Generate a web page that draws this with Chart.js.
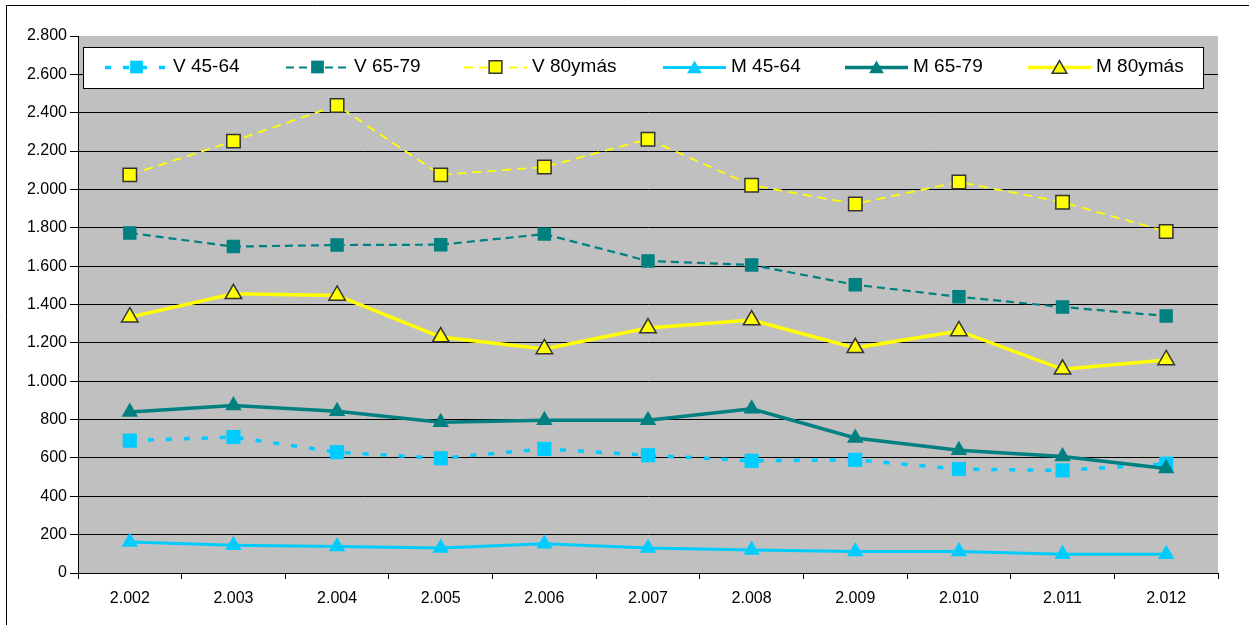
<!DOCTYPE html>
<html>
<head>
<meta charset="utf-8">
<script src="https://cdn.jsdelivr.net/npm/chart.js@4"></script>
<style>
html,body{margin:0;padding:0;background:#fff;}
#wrap{width:1249px;height:625px;position:relative;}
</style>
</head>
<body>
<div id="wrap"><canvas id="c" width="1249" height="625"></canvas></div>
<script>
const categories = ['2.002','2.003','2.004','2.005','2.006','2.007','2.008','2.009','2.010','2.011','2.012'];
const seriesNames = ['V 45-64','V 65-79','V 80ymás','M 45-64','M 65-79','M 80ymás'];
const v4564 = [690, 709, 630, 598, 647, 614, 585, 590, 542, 535, 570];
const v6579 = [1773, 1702, 1710, 1712, 1767, 1627, 1606, 1503, 1440, 1387, 1340];
const v80   = [2076, 2252, 2438, 2076, 2117, 2262, 2022, 1924, 2039, 1933, 1781];
const m4564 = [162, 145, 138, 130, 152, 130, 120, 112, 112, 98, 98];
const m6579 = [839, 874, 843, 786, 796, 796, 856, 704, 640, 607, 545];
const m80   = [1334, 1456, 1447, 1230, 1168, 1277, 1319, 1174, 1262, 1062, 1111];
const yMin = 0, yMax = 2800, yStep = 200;

const FONT = "'Liberation Sans', Arial, sans-serif";
const LBLUE = '#00CCFF', TEAL = '#008080', YEL = '#FFFF00', EDGE = '#333333';

function fmt(v){
  return String(v).replace(/\B(?=(\d{3})+(?!\d))/g, '.');
}

const styles = [
  {color:LBLUE, dash:[6,12], width:3.5, shape:'rect', r:10, edge:null},
  {color:TEAL,  dash:[8,5],  width:2.2, shape:'rect', r:9.5, edge:null},
  {color:YEL,   dash:[9,6],  width:1.8, shape:'rect', r:9.5, edge:EDGE},
  {color:LBLUE, dash:[],     width:3,   shape:'triangle', r:9.5, edge:null},
  {color:TEAL,  dash:[],     width:3.5, shape:'triangle', r:9.5, edge:null},
  {color:YEL,   dash:[],     width:3.5, shape:'triangle', r:9.5, edge:EDGE}
];
const values = [v4564, v6579, v80, m4564, m6579, m80];

const datasets = values.map((vals, i) => {
  const s = styles[i];
  return {
    label: seriesNames[i],
    data: vals,
    borderColor: s.color,
    backgroundColor: s.color,
    borderWidth: s.width,
    borderDash: s.dash,
    borderCapStyle: 'butt',
    tension: 0,
    fill: false,
    pointStyle: s.shape,
    pointRadius: s.r,
    pointHoverRadius: s.r,
    pointBackgroundColor: s.color,
    pointBorderColor: s.edge || s.color,
    pointBorderWidth: s.edge ? 1.5 : 0,
    order: 5 - i
  };
});

const bgPlugin = {
  id: 'bg',
  beforeDraw(chart){
    const ctx = chart.ctx, a = chart.chartArea;
    ctx.save();
    ctx.fillStyle = '#fff';
    ctx.fillRect(0,0,chart.width,chart.height);
    ctx.strokeStyle = '#000';
    ctx.lineWidth = 1;
    ctx.beginPath();
    ctx.moveTo(6.5, chart.height + 5);
    ctx.lineTo(6.5, 5.5);
    ctx.lineTo(chart.width + 5, 5.5);
    ctx.stroke();
    ctx.fillStyle = '#C0C0C0';
    ctx.fillRect(a.left, a.top, a.right - a.left, a.bottom - a.top);
    ctx.restore();
  }
};

function drawMarker(ctx, s, x, y, r){
  ctx.save();
  ctx.setLineDash([]);
  ctx.fillStyle = s.color;
  ctx.beginPath();
  if (s.shape === 'rect') {
    const h = r * Math.SQRT1_2;
    ctx.rect(x - h, y - h, 2*h, 2*h);
  } else {
    const w = r * Math.sqrt(3) / 2;
    ctx.moveTo(x, y - r);
    ctx.lineTo(x + w, y + r/2);
    ctx.lineTo(x - w, y + r/2);
    ctx.closePath();
  }
  ctx.fill();
  if (s.edge) {
    ctx.strokeStyle = s.edge;
    ctx.lineWidth = 1.5;
    ctx.stroke();
  }
  ctx.restore();
}

const legendPlugin = {
  id: 'boxLegend',
  afterDraw(chart){
    const ctx = chart.ctx;
    const itemX = [105, 286, 464, 663, 845, 1028];
    const sampleLen = 63, cy = 67;
    ctx.save();
    ctx.fillStyle = '#fff';
    ctx.fillRect(83.5, 47.5, 1120, 41);
    ctx.strokeStyle = '#000';
    ctx.lineWidth = 1;
    ctx.strokeRect(83.5, 47.5, 1120, 41);
    chart.data.datasets.forEach((ds, i) => {
      const s = styles[i];
      const x = itemX[i];
      ctx.save();
      ctx.strokeStyle = s.color;
      ctx.lineWidth = s.width;
      ctx.setLineDash(s.dash);
      ctx.lineCap = 'butt';
      ctx.beginPath();
      ctx.moveTo(x, cy + 0.5);
      ctx.lineTo(x + sampleLen, cy + 0.5);
      ctx.stroke();
      ctx.restore();
      drawMarker(ctx, s, x + sampleLen/2, cy + (s.shape === 'triangle' ? 2 : 0), s.shape === 'triangle' ? 8.5 : 9);
      ctx.fillStyle = '#000';
      ctx.font = '19px ' + FONT;
      ctx.textBaseline = 'middle';
      ctx.textAlign = 'left';
      ctx.fillText(ds.label, x + sampleLen + 5, cy);
    });
    ctx.restore();
  }
};

new Chart(document.getElementById('c'), {
  type: 'line',
  data: { labels: categories, datasets },
  plugins: [bgPlugin, legendPlugin],
  options: {
    responsive: false,
    animation: false,
    events: [],
    layout: { padding: { left: 0, top: 36, right: 31, bottom: 0 } },
    plugins: { legend: { display: false }, tooltip: { enabled: false } },
    scales: {
      x: {
        offset: true,
        grid: { display: true, drawOnChartArea: false, drawTicks: true, tickLength: 6, tickColor: '#000', offset: true },
        border: { display: true, color: '#000', width: 1 },
        ticks: { color: '#000', font: { family: FONT, size: 16 }, padding: 10, maxRotation: 0, autoSkip: false },
        afterFit(scale){ scale.height = 52; }
      },
      y: {
        min: yMin, max: yMax,
        grid: {
          color: (c) => (c.tick && c.tick.value === yMax) ? 'rgba(0,0,0,0)' : '#000',
          lineWidth: 1, drawTicks: true, tickLength: 8, tickColor: '#000'
        },
        border: { display: true, color: '#000', width: 1 },
        ticks: { stepSize: yStep, color: '#000', font: { family: FONT, size: 16 }, padding: 3, callback: (v) => fmt(v) },
        afterFit(scale){ scale.width = 78; }
      }
    }
  }
});
</script>
</body>
</html>
